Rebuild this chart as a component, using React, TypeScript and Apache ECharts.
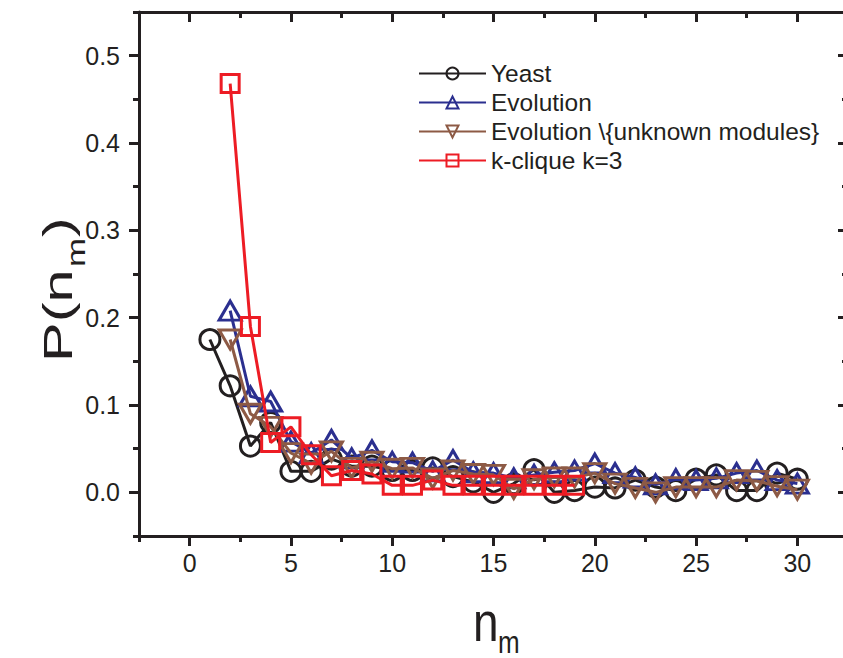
import React, { useEffect, useRef } from "react";
import * as echarts from "echarts";

// ---- data ----
const nValues = [1, 2, 3, 4, 5, 6, 7, 8, 9, 10, 11, 12, 13, 14, 15, 16, 17, 18, 19, 20, 21, 22, 23, 24, 25, 26, 27, 28, 29, 30];

const yeast = [0.175, 0.122, 0.053, 0.080, 0.024, 0.024, 0.038, 0.030, 0.030, 0.025, 0.025, 0.028, 0.018, 0.012, 0.000, 0.010, 0.026, 0.000, 0.002, 0.006, 0.005, 0.014, 0.006, 0.002, 0.015, 0.020, 0.002, 0.002, 0.022, 0.015];

const evolution = [null, 0.208, 0.110, 0.104, 0.058, 0.045, 0.060, 0.039, 0.048, 0.035, 0.034, 0.024, 0.037, 0.023, 0.022, 0.016, 0.020, 0.023, 0.025, 0.033, 0.022, 0.017, 0.009, 0.015, 0.014, 0.016, 0.022, 0.025, 0.014, 0.010];

const evolutionKnown = [null, 0.175, 0.090, 0.075, 0.045, 0.033, 0.047, 0.028, 0.035, 0.027, 0.028, 0.016, 0.025, 0.021, 0.020, 0.004, 0.015, 0.017, 0.017, 0.022, 0.010, 0.005, 0.000, 0.006, 0.006, 0.006, 0.014, 0.013, 0.007, 0.003];

const kClique = [null, 0.468, 0.190, 0.057, 0.075, 0.043, 0.019, 0.025, 0.021, 0.008, 0.008, 0.014, 0.008, 0.008, 0.008, 0.008, 0.008, 0.008, 0.008, null, null, null, null, null, null, null, null, null, null, null];

const seriesNames = ["Yeast", "Evolution", "Evolution \\{unknown modules}", "k-clique k=3"];

const xMajorTicks = [0, 5, 10, 15, 20, 25, 30];
const yMajorTicks = [0, 0.1, 0.2, 0.3, 0.4, 0.5];

const AXIS = "#231f20";
const FONT = "'Liberation Sans', Arial, sans-serif";

function toPairs(vals: (number | null)[]) {
  const out: number[][] = [];
  nValues.forEach((n, i) => {
    const v = vals[i];
    if (v !== null && v !== undefined) out.push([n, v]);
  });
  return out;
}

function xAxisDef(position: string, major: boolean, inside: boolean, labels: boolean) {
  const base: any = {
    type: "value",
    min: -2.5,
    max: 32.5,
    position,
    splitLine: { show: false },
    axisLine: { show: major, onZero: false, lineStyle: { color: AXIS, width: 3 } },
    axisTick: {
      show: true,
      inside,
      length: major ? 10 : 6,
      lineStyle: { color: AXIS, width: 3 },
    },
    axisLabel: { show: false },
  };
  if (major) {
    base.axisTick.customValues = xMajorTicks;
    if (labels) {
      base.axisLabel = {
        show: true,
        customValues: xMajorTicks,
        fontSize: 25,
        fontFamily: FONT,
        color: AXIS,
        margin: 14,
        formatter: (v: number) => String(v),
      };
    }
  } else {
    base.interval = 2.5;
  }
  return base;
}

function yAxisDef(position: string, major: boolean, inside: boolean, labels: boolean) {
  const base: any = {
    type: "value",
    min: -0.05,
    max: 0.55,
    position,
    splitLine: { show: false },
    axisLine: { show: major, onZero: false, lineStyle: { color: AXIS, width: 3 } },
    axisTick: {
      show: true,
      inside,
      length: major ? 10 : 6,
      lineStyle: { color: AXIS, width: 3 },
    },
    axisLabel: { show: false },
  };
  if (major) {
    base.axisTick.customValues = yMajorTicks;
    if (labels) {
      base.axisLabel = {
        show: true,
        customValues: yMajorTicks,
        fontSize: 25,
        fontFamily: FONT,
        color: AXIS,
        margin: 19,
        formatter: (v: number) => v.toFixed(1),
      };
    }
  } else {
    base.interval = 0.05;
  }
  return base;
}

const seriesStyles = [
  { color: "#231f20", symbol: "circle", size: 20, rotate: 0 },
  { color: "#2b2f8f", symbol: "triangle", size: [22, 19], rotate: 0 },
  { color: "#8d5a45", symbol: "triangle", size: [22, 19], rotate: 180 },
  { color: "#ed1c24", symbol: "rect", size: 18, rotate: 0 },
];

const seriesData = [yeast, evolution, evolutionKnown, kClique];

export default function App() {
  const ref = useRef<HTMLDivElement>(null);

  useEffect(() => {
    document.body.style.overflow = "hidden";
    if (!ref.current) return;
    const chart = echarts.init(ref.current, undefined, { renderer: "svg" });

    const series = seriesNames.map((name, i) => {
      const st = seriesStyles[i];
      return {
        name,
        type: "line",
        data: toPairs(seriesData[i]),
        xAxisIndex: 0,
        yAxisIndex: 0,
        symbol: st.symbol,
        symbolSize: st.size,
        symbolRotate: st.rotate,
        showAllSymbol: true,
        lineStyle: { color: st.color, width: 3 },
        itemStyle: { color: "rgba(0,0,0,0)", borderColor: st.color, borderWidth: 3 },
        emphasis: { disabled: true },
        z: 2 + i,
      };
    });

    const titleStyle = (text: string, fontSize: number) => ({
      text,
      fontSize,
      fontFamily: FONT,
      fill: AXIS,
      align: "left",
      verticalAlign: "middle",
    });

    const option: any = {
      animation: false,
      backgroundColor: "#ffffff",
      grid: { left: 139, top: 12, right: 2, bottom: 122, containLabel: false },
      xAxis: [
        xAxisDef("bottom", true, false, true),
        xAxisDef("bottom", false, false, false),
        xAxisDef("top", true, true, false),
        xAxisDef("top", false, true, false),
      ],
      yAxis: [
        yAxisDef("left", true, false, true),
        yAxisDef("left", false, false, false),
        yAxisDef("right", true, true, false),
        yAxisDef("right", false, true, false),
      ],
      legend: {
        data: seriesNames,
        orient: "vertical",
        left: 413,
        top: 56,
        itemWidth: 67,
        itemHeight: 15,
        itemGap: 4,
        textStyle: { fontSize: 24.5, fontFamily: FONT, color: AXIS, lineHeight: 24 },
      },
      graphic: [
        { type: "text", x: 473, y: 622, scaleY: 1.2, style: titleStyle("n", 46) },
        { type: "text", x: 498, y: 642, scaleY: 1.2, style: titleStyle("m", 26) },
        { type: "text", x: 58, y: 362, rotation: Math.PI / 2, scaleX: 1.45, style: titleStyle("P(n", 41) },
        { type: "text", x: 76, y: 267, rotation: Math.PI / 2, scaleX: 1.4, style: titleStyle("m", 25) },
        { type: "text", x: 58, y: 237, rotation: Math.PI / 2, scaleX: 1.45, style: titleStyle(")", 41) },
      ],
      series,
    };

    chart.setOption(option);
    return () => chart.dispose();
  }, []);

  return (
    <div
      ref={ref}
      style={{ position: "fixed", left: 0, top: 0, width: 850, height: 658, background: "#fff" }}
    />
  );
}
